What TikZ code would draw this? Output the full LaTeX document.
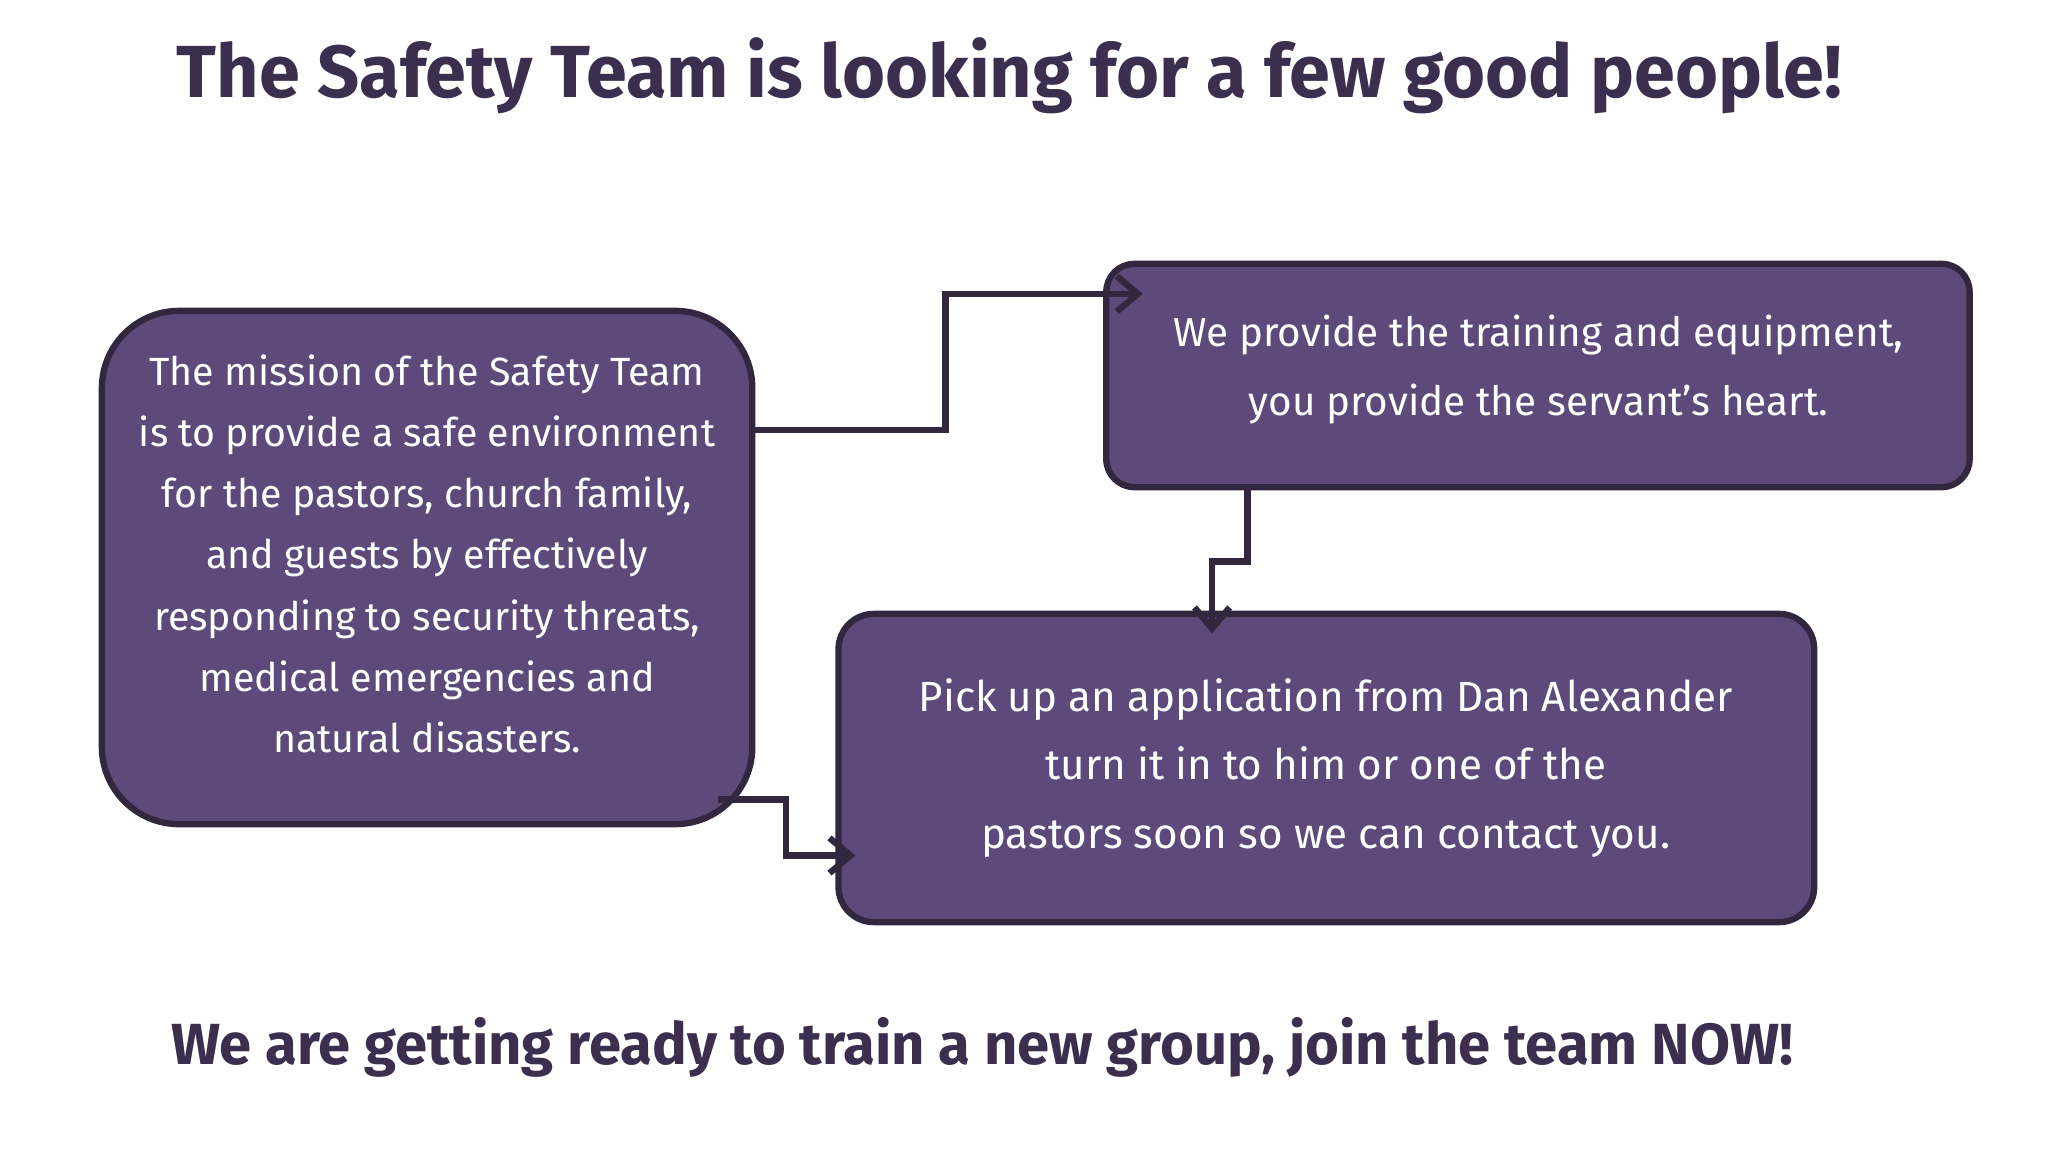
\documentclass[tikz,border=0pt]{standalone}
\usepackage{fontspec}
\setmainfont{Fira Sans}
\usetikzlibrary{arrows.meta}
\definecolor{boxfill}{HTML}{5E4A7A}
\definecolor{boxline}{HTML}{33263F}
\definecolor{ink}{HTML}{3B2E4F}
\tikzset{
 card/.style={draw=boxline,line width=1.8pt,fill=boxfill,text=white,align=center},
 link/.style={draw=boxline,line width=1.8pt,-{Straight Barb[length=6pt,width=10pt]}},
}
\begin{document}
\begin{tikzpicture}[x=0.01306cm,y=-0.01306cm]
\useasboundingbox[fill=white] (0,0) rectangle (1568,882);
\node[text=ink,font=\fontsize{21}{25}\selectfont\bfseries] (title) at (773,58) {The Safety Team is looking for a few good people!};
\node[text=ink,font=\fontsize{16.5}{20}\selectfont\bfseries] (foot) at (752,802) {We are getting ready to train a new group, join the team NOW!};
\draw[card,rounded corners=22pt] (78,238) rectangle (576,631);
\node[text=white,align=center,font=\fontsize{11.2}{17.4}\selectfont] (mission) at (327,424) {The mission of the Safety Team\\is to provide a safe environment\\for the pastors, church family,\\and guests by effectively\\responding to security threats,\\medical emergencies and\\natural disasters.};
\draw[card,rounded corners=8pt] (847,202) rectangle (1508,373);
\node[text=white,align=center,font=\fontsize{11.5}{19.5}\selectfont] (train) at (1178,283) {We provide the training and equipment,\\you provide the servant's heart.};
\draw[card,rounded corners=10pt] (642,470) rectangle (1389,706);
\node[text=white,align=center,font=\fontsize{12}{19.5}\selectfont] (pick) at (1015,588) {Pick up an application from Dan Alexander\\turn it in to him or one of the\\pastors soon so we can contact you.};
\coordinate (a1) at (576,329); \coordinate (a2) at (875,225);
\coordinate (b1) at (955,373); \coordinate (b2) at (928,485);
\coordinate (c1) at (550,612); \coordinate (c2) at (655,655);
\draw[link] (a1) -- (724,329) -- (724,225) -- (a2);
\draw[link] (b1) -- (955,430) -- (928,430) -- (b2);
\draw[link] (c1) -- (602,612) -- (602,655) -- (c2);
\end{tikzpicture}
\end{document}
